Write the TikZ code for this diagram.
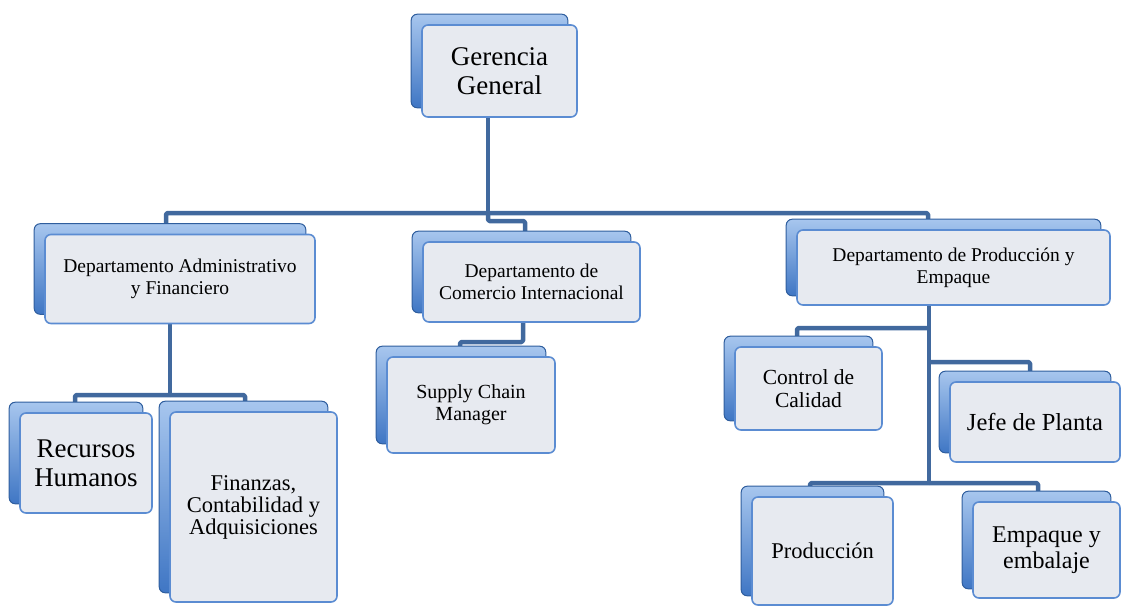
\documentclass[tikz,border=0pt]{standalone}
\usepackage{fontspec}
\setmainfont{Liberation Serif}
\usetikzlibrary{positioning,backgrounds}

\definecolor{cardblue}{HTML}{3F76C4}
\definecolor{cardlight}{HTML}{A7C6EE}
\definecolor{carddark}{HTML}{2F5E9E}
\definecolor{faceborder}{HTML}{5B8CD2}
\definecolor{facefill}{HTML}{E7EAF0}
\definecolor{linkblue}{HTML}{41699E}

\newcommand{\txtsize}[2]{\fontsize{#1}{#2}\selectfont}

\begin{document}
\begin{tikzpicture}[
  x=1pt, y=-1pt,
  card/.style={draw=faceborder, line width=1.6pt, rounded corners=6pt, fill=facefill, align=center, inner sep=2pt},
  backcard/.style={draw=carddark, line width=1pt, rounded corners=6pt, top color=cardlight, bottom color=cardblue},
  link/.style={draw=linkblue, line width=4.5pt, line join=round, rounded corners=1.5pt}
]
\useasboundingbox (0,0) rectangle (1123,608);

% ----- TOP -----
\node[card, minimum width=155pt, minimum height=92pt, font=\txtsize{27}{29}] (ger) at (499.5,71) {Gerencia\\General};

% ----- DEPARTMENTS -----
\node[card, minimum width=270pt, minimum height=89pt, font=\txtsize{19.5}{22}] (adm) at (180,279) {Departamento Administrativo\\y Financiero};
\node[card, minimum width=217pt, minimum height=80pt, font=\txtsize{19.5}{22}] (com) at (531.5,282) {Departamento de\\Comercio Internacional};
\node[card, minimum width=313pt, minimum height=75pt, font=\txtsize{19.5}{22}] (pro) at (953.5,267.5) {\raisebox{-5pt}{Departamento de Producción y}\\\raisebox{-5pt}{Empaque}};

% ----- UNITS -----
\node[card, minimum width=132pt, minimum height=100pt, font=\txtsize{27}{29}] (rh) at (86,463) {Recursos\\Humanos};
\node[card, minimum width=167pt, minimum height=190pt, font=\txtsize{22.5}{22}] (fin) at (253.5,507) {Finanzas,\\Contabilidad y\\Adquisiciones};
\node[card, minimum width=168pt, minimum height=96pt, font=\txtsize{20}{22}] (sup) at (471,405) {Supply Chain\\Manager};
\node[card, minimum width=147pt, minimum height=83pt, font=\txtsize{21.5}{23}] (cal) at (808.5,388.5) {Control de\\Calidad};
\node[card, minimum width=170pt, minimum height=80pt, font=\txtsize{24.5}{26}] (jef) at (1035,422) {Jefe de Planta};
\node[card, minimum width=141pt, minimum height=108pt, font=\txtsize{22.5}{24}] (prd) at (822.5,551) {Producción};
\node[card, minimum width=147pt, minimum height=96pt, font=\txtsize{24}{26}] (emp) at (1046.5,550) {Empaque y\\embalaje};

% ----- JUNCTIONS -----
\coordinate (jtop) at (488,213);
\coordinate (jadm) at (170,395);
\coordinate (jcom) at (523,342);
\coordinate (jcal) at (929,328);
\coordinate (jjef) at (929,362);
\coordinate (jpro) at (929,483);

\begin{pgfonlayer}{background}
% ----- CONNECTORS -----
\draw[link] ([xshift=-11.5pt]ger.south) -- (jtop);
\draw[link] (jtop) -| ([xshift=-14pt,yshift=10pt]adm.north);
\draw[link] (jtop) -| ([xshift=-25.5pt,yshift=10pt]pro.north);
\draw[link] (jtop) -- ++(0,8) -| ([xshift=-6.5pt,yshift=10pt]com.north);

\draw[link] ([xshift=-10pt]adm.south) -- (jadm);
\draw[link] (jadm) -| ([xshift=-11pt,yshift=10pt]rh.north);
\draw[link] (jadm) -| ([xshift=-8.5pt,yshift=10pt]fin.north);

\draw[link] ([xshift=-8.5pt]com.south) -- (jcom) -| ([xshift=-11pt,yshift=10pt]sup.north);

\draw[link] ([xshift=-24.5pt]pro.south) -- (jpro);
\draw[link] (jcal) -| ([xshift=-11.5pt,yshift=10pt]cal.north);
\draw[link] (jjef) -| ([xshift=-5pt,yshift=10pt]jef.north);
\draw[link] (jpro) -| ([xshift=-12.5pt,yshift=10pt]prd.north);
\draw[link] (jpro) -| ([xshift=-8.5pt,yshift=10pt]emp.north);

% ----- BACK CARDS -----
\foreach \n in {ger,adm,com,pro,rh,fin,sup,cal,jef,prd,emp}
  \draw[backcard] ([shift={(-10pt,10pt)}]\n.south west) rectangle ([shift={(-10pt,10pt)}]\n.north east);
\end{pgfonlayer}
\end{tikzpicture}
\end{document}
